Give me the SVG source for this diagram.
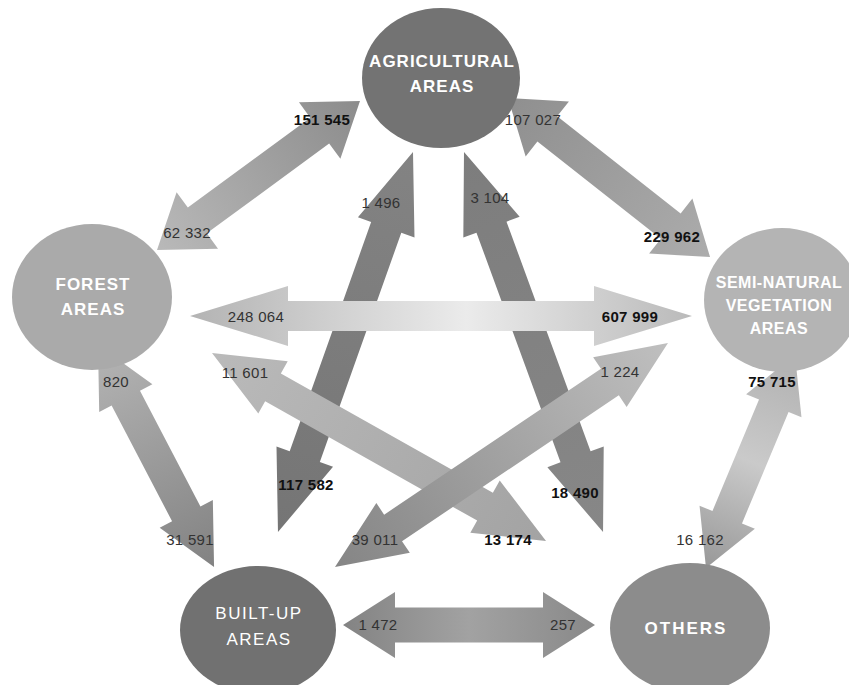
<svg xmlns="http://www.w3.org/2000/svg" width="849" height="685" viewBox="0 0 849 685">
<style>
.node text{font-family:"Liberation Sans",Arial,sans-serif;font-size:17px;fill:#ffffff;text-anchor:middle;font-weight:bold;letter-spacing:1px}
.node .semi{font-size:16px;letter-spacing:0.5px}
.lbl{font-family:"Liberation Sans",Arial,sans-serif;font-size:15px;fill:#333333;text-anchor:middle;letter-spacing:0.3px}
.b{font-weight:bold;fill:#111111}
</style>
<defs>
<linearGradient id="g1" x1="0" y1="0" x2="1" y2="0"><stop offset="0" stop-color="#b9b9b9"/><stop offset="1" stop-color="#8c8c8c"/></linearGradient>
<linearGradient id="g2" x1="0" y1="0" x2="1" y2="0"><stop offset="0" stop-color="#8f8f8f"/><stop offset="1" stop-color="#acacac"/></linearGradient>
<linearGradient id="g3" x1="0" y1="0" x2="1" y2="0"><stop offset="0" stop-color="#b3b3b3"/><stop offset="0.55" stop-color="#ebebeb"/><stop offset="1" stop-color="#bababa"/></linearGradient>
<linearGradient id="g4" x1="0" y1="0" x2="1" y2="0"><stop offset="0" stop-color="#838383"/><stop offset="1" stop-color="#757575"/></linearGradient>
<linearGradient id="g5" x1="0" y1="0" x2="1" y2="0"><stop offset="0" stop-color="#7d7d7d"/><stop offset="1" stop-color="#878787"/></linearGradient>
<linearGradient id="g6" x1="0" y1="0" x2="1" y2="0"><stop offset="0" stop-color="#b5b5b5"/><stop offset="1" stop-color="#828282"/></linearGradient>
<linearGradient id="g7" x1="0" y1="0" x2="1" y2="0"><stop offset="0" stop-color="#b0b0b0"/><stop offset="0.5" stop-color="#cacaca"/><stop offset="1" stop-color="#989898"/></linearGradient>
<linearGradient id="g8" x1="0" y1="0" x2="1" y2="0"><stop offset="0" stop-color="#bababa"/><stop offset="1" stop-color="#a3a3a3"/></linearGradient>
<linearGradient id="g9" x1="0" y1="0" x2="1" y2="0"><stop offset="0" stop-color="#858585"/><stop offset="1" stop-color="#bfbfbf"/></linearGradient>
<linearGradient id="g10" x1="0" y1="0" x2="1" y2="0"><stop offset="0" stop-color="#838383"/><stop offset="0.5" stop-color="#a2a2a2"/><stop offset="1" stop-color="#898989"/></linearGradient>
</defs>
<rect width="849" height="685" fill="#ffffff"/>
<g id="connectors">
<polygon transform="translate(413,152) rotate(109.56)" fill="url(#g4)" points="0,0 80,-30 80,-16 323.3,-16 323.3,-30 403.3,0 323.3,30 323.3,16 80,16 80,30"/>
<polygon transform="translate(464,152) rotate(69.9)" fill="url(#g5)" points="0,0 80,-30 80,-16 324.6,-16 324.6,-30 404.6,0 324.6,30 324.6,16 80,16 80,30"/>
<polygon transform="translate(190,316)" fill="url(#g3)" points="0,0 98,-30 98,-15 404,-15 404,-30 502,0 404,30 404,15 98,15 98,30"/>
<polygon transform="translate(212,353) rotate(29.37)" fill="url(#g8)" points="0,0 70,-30 70,-16 313.3,-16 313.3,-30 383.3,0 313.3,30 313.3,16 70,16 70,30"/>
<polygon transform="translate(335,567) rotate(-33.93)" fill="url(#g9)" points="0,0 70,-30 70,-16 331.3,-16 331.3,-30 401.3,0 331.3,30 331.3,16 70,16 70,30"/>
<polygon transform="translate(157,250) rotate(-36.28)" fill="url(#g1)" points="0,0 50,-35 50,-16 201.8,-16 201.8,-35 251.8,0 201.8,35 201.8,16 50,16 50,35"/>
<polygon transform="translate(508,98) rotate(38.2)" fill="url(#g2)" points="0,0 50,-35 50,-16 207.1,-16 207.1,-35 257.1,0 207.1,35 207.1,16 50,16 50,35"/>
<polygon transform="translate(98,345) rotate(62.4)" fill="url(#g6)" points="0,0 60,-30 60,-16 190.5,-16 190.5,-30 250.5,0 190.5,30 190.5,16 60,16 60,30"/>
<polygon transform="translate(795,355) rotate(112.68)" fill="url(#g7)" points="0,0 55,-30 55,-16 175.8,-16 175.8,-30 230.8,0 175.8,30 175.8,16 55,16 55,30"/>
<polygon transform="translate(343,625)" fill="url(#g10)" points="0,0 52,-33 52,-17.5 200,-17.5 200,-33 252,0 200,33 200,17.5 52,17.5 52,33"/>
<text class="lbl b" x="322" y="125">151 545</text>
<text class="lbl" x="187" y="238">62 332</text>
<text class="lbl" x="533" y="125">107 027</text>
<text class="lbl b" x="672" y="242">229 962</text>
<text class="lbl" x="381" y="208">1 496</text>
<text class="lbl" x="490" y="203">3 104</text>
<text class="lbl" x="256" y="322">248 064</text>
<text class="lbl b" x="630" y="322">607 999</text>
<text class="lbl" x="245" y="378">11 601</text>
<text class="lbl" x="620" y="377">1 224</text>
<text class="lbl" x="116" y="387">820</text>
<text class="lbl b" x="772" y="387">75 715</text>
<text class="lbl b" x="306" y="490">117 582</text>
<text class="lbl b" x="575" y="498">18 490</text>
<text class="lbl" x="190" y="545">31 591</text>
<text class="lbl" x="375" y="545">39 011</text>
<text class="lbl b" x="508" y="545">13 174</text>
<text class="lbl" x="700" y="545">16 162</text>
<text class="lbl" x="378" y="630">1 472</text>
<text class="lbl" x="563" y="630">257</text>
</g>
<g id="agricultural" class="node">
<ellipse cx="441" cy="78" rx="79" ry="70" fill="#737373"/>
<text x="442" y="67">AGRICULTURAL</text>
<text x="442" y="92">AREAS</text>
</g>
<g id="forest" class="node">
<ellipse cx="92" cy="297" rx="80" ry="73" fill="#aaaaaa"/>
<text x="93" y="290">FOREST</text>
<text x="93" y="315">AREAS</text>
</g>
<g id="seminatural" class="node">
<ellipse cx="782" cy="300" rx="78" ry="72" fill="#b4b4b4"/>
<text class="semi" x="779" y="288">SEMI-NATURAL</text>
<text class="semi" x="779" y="311">VEGETATION</text>
<text class="semi" x="779" y="334">AREAS</text>
</g>
<g id="builtup" class="node">
<ellipse cx="258" cy="630" rx="78" ry="64" fill="#717171"/>
<text x="259" y="619" style="font-weight:normal;letter-spacing:1.5px">BUILT-UP</text>
<text x="259" y="645" style="font-weight:normal;letter-spacing:1.5px">AREAS</text>
</g>
<g id="others" class="node">
<ellipse cx="690" cy="628" rx="80" ry="65" fill="#8c8c8c"/>
<text x="686" y="634" style="letter-spacing:2px">OTHERS</text>
</g>
</svg>
